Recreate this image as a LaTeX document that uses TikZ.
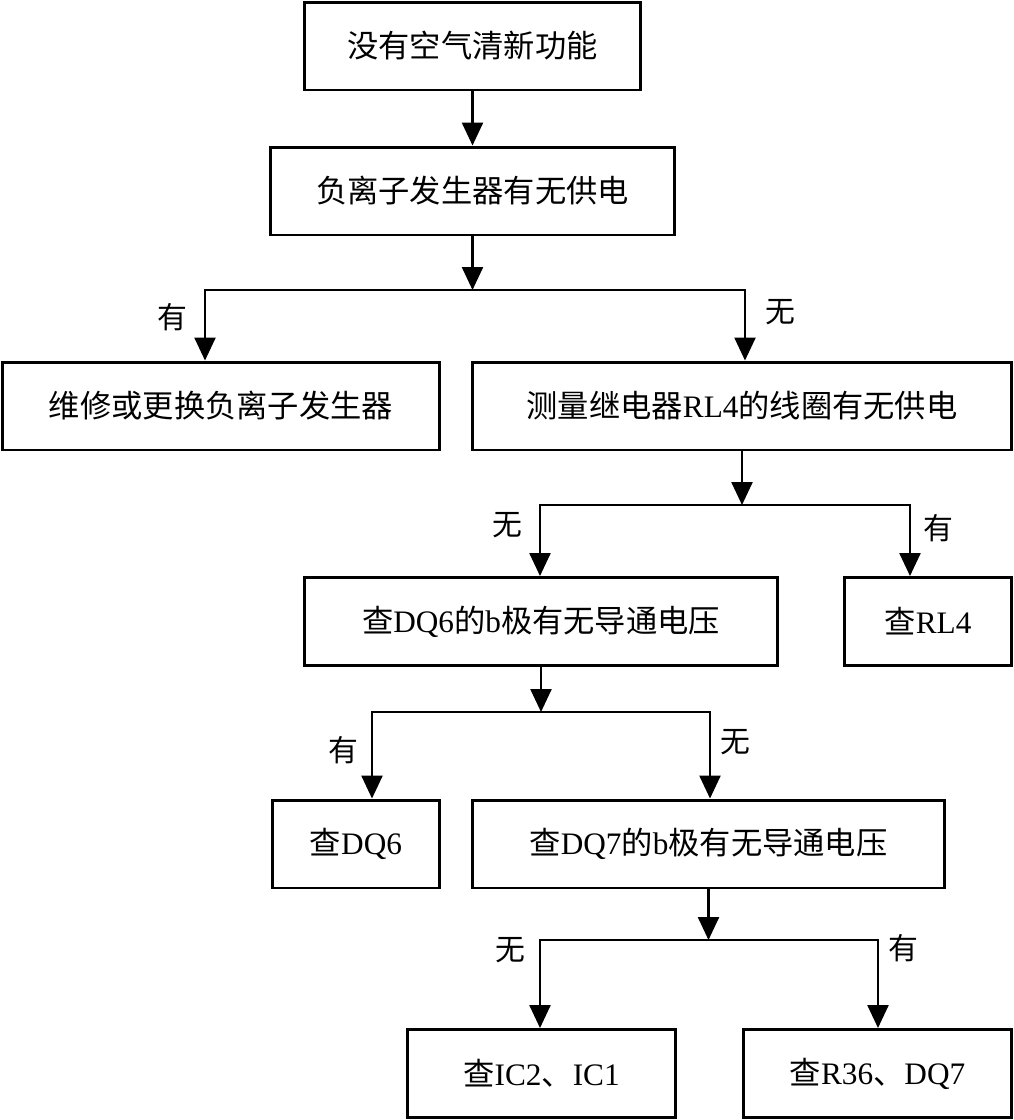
\documentclass[tikz,border=0pt]{standalone}
\usepackage{fontspec}
\usepackage{tikz}
\setmainfont{Liberation Serif}
\newfontfamily\cjk{Noto Sans CJK SC}
\usetikzlibrary{arrows.meta}
\newcommand{\zh}[1]{{\cjk #1}}

\begin{document}
\begin{tikzpicture}[
				x=0.02cm, y=-0.02cm,
				box/.style={
					draw=black,
					line width=1.7pt,
					inner sep=0pt,
					minimum height=1.76cm,
					font=\fontsize{17.8}{21}\selectfont
				},
				lbl/.style={
					inner sep=0pt,
					font=\fontsize{17}{20}\selectfont\cjk
				},
				line/.style={
					draw=black,
					line width=1.4pt,
					line cap=rect
				},
				arrow/.style={
					line,
					-{Triangle[length=0.46cm, width=0.42cm]}
				}
			]

				\useasboundingbox (0,0) rectangle (1014,1120);

				\node[box, minimum width=6.74cm] (start) at (472.5,46) {\zh{没有空气清新功能}};
				\node[box, minimum width=8.1cm] (power) at (472.5,191) {\zh{负离子发生器有无供电}};
				\node[box, minimum width=8.76cm] (repair) at (221,406) {\zh{维修或更换负离子发生器}};
				\node[box, minimum width=10.8cm] (coil) at (742,406) {\zh{测量继电器}RL4\zh{的线圈有无供电}};
				\node[box, minimum width=9.48cm] (dqsix) at (541,621.5) {\zh{查}DQ6\zh{的}b\zh{极有无导通电压}};
				\node[box, minimum width=3.36cm] (rlfour) at (928,621.5) {\zh{查}RL4};
				\node[box, minimum width=3.36cm] (chksix) at (356,844) {\zh{查}DQ6};
				\node[box, minimum width=9.46cm] (dqseven) at (708.5,844) {\zh{查}DQ7\zh{的}b\zh{极有无导通电压}};
				\node[box, minimum width=5.38cm] (chkic) at (541.5,1073.5) {\zh{查}IC2\zh{、}IC1};
				\node[box, minimum width=5.38cm] (chkr) at (877.5,1073.5) {\zh{查}R36\zh{、}DQ7};

				% split points
				\coordinate (sa) at (472.5,290);
				\coordinate (sal) at (205,290);
				\coordinate (sar) at (745,290);
				\coordinate (sb) at (742,505);
				\coordinate (sbl) at (540,505);
				\coordinate (sbr) at (910,505);
				\coordinate (sc) at (541,712);
				\coordinate (scl) at (372,712);
				\coordinate (scr) at (710,712);
				\coordinate (sd) at (708.5,940);
				\coordinate (sdl) at (540,940);
				\coordinate (sdr) at (878,940);

				\draw[arrow] (start) -- (power);

				\draw[arrow] (power) -- (sa);
				\draw[line] (sal) -- (sar);
				\draw[arrow] (sal) -- (sal |- repair.north);
				\draw[arrow] (sar) -- (sar |- coil.north);

				\draw[arrow] (coil) -- (sb);
				\draw[line] (sbl) -- (sbr);
				\draw[arrow] (sbl) -- (sbl |- dqsix.north);
				\draw[arrow] (sbr) -- (sbr |- rlfour.north);

				\draw[arrow] (dqsix) -- (sc);
				\draw[line] (scl) -- (scr);
				\draw[arrow] (scl) -- (scl |- chksix.north);
				\draw[arrow] (scr) -- (scr |- dqseven.north);

				\draw[arrow] (dqseven) -- (sd);
				\draw[line] (sdl) -- (sdr);
				\draw[arrow] (sdl) -- (sdl |- chkic.north);
				\draw[arrow] (sdr) -- (sdr |- chkr.north);

				\node[lbl] (ya) at (172,317) {有};
				\node[lbl] (na) at (780,312) {无};
				\node[lbl] (nb) at (507,525) {无};
				\node[lbl] (yb) at (938,528) {有};
				\node[lbl] (yc) at (343,750) {有};
				\node[lbl] (nc) at (735,742) {无};
				\node[lbl] (nd) at (510,950) {无};
				\node[lbl] (yd) at (903,948) {有};

			\end{tikzpicture}
\end{document}
